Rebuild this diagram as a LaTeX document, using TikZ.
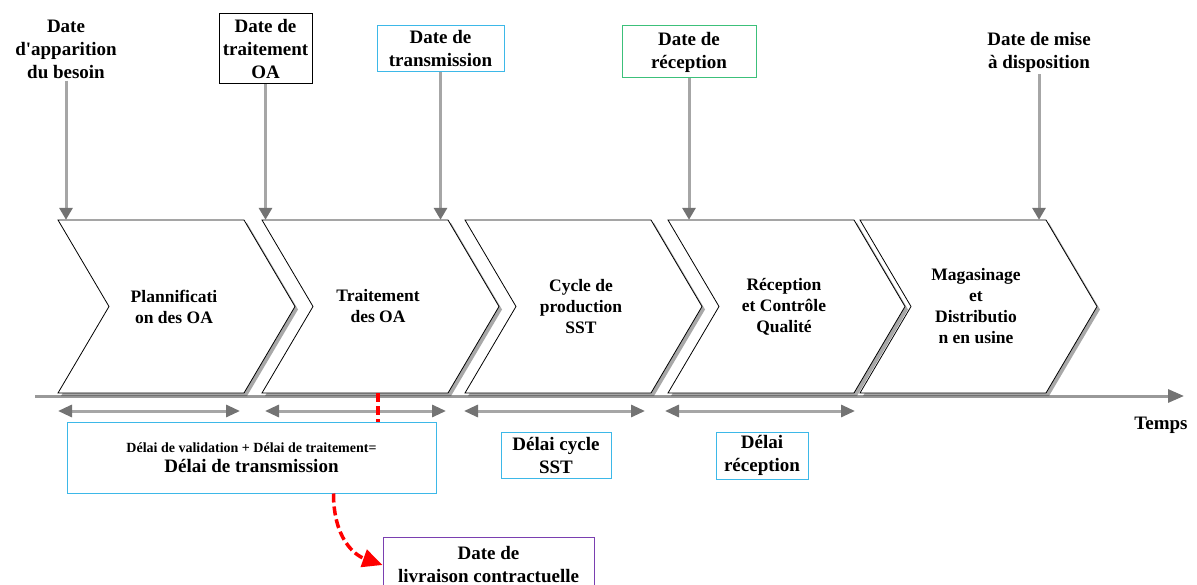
\documentclass[tikz,border=0pt]{standalone}
\usepackage{fontspec}
\setmainfont{Liberation Serif}
\newfontfamily\plainserif{Liberation Serif}
\usetikzlibrary{arrows.meta,shadows}
\tikzset{
  chev/.style={draw=black,line width=0.8pt,fill=white,
    drop shadow={shadow xshift=3pt,shadow yshift=-3pt,fill=black!75,opacity=0.45}},
  chevtext/.style={minimum width=186pt,minimum height=173pt,inner sep=0pt,align=center,
    font=\bfseries\fontsize{17.5}{21}\selectfont},
  datelabel/.style={align=center,inner sep=2pt,font=\bfseries\fontsize{19}{23}\selectfont},
  datebox/.style={datelabel,draw=#1,line width=1pt,fill=white},
  dateline/.style={draw=black!35,line width=3pt,-{Triangle[length=12pt,width=13pt,color=black!55]}},
  spanline/.style={draw=black!35,line width=3pt,
    {Triangle[length=14pt,width=12pt,color=black!55]}-{Triangle[length=14pt,width=12pt,color=black!55]}},
  redlink/.style={draw=red,line width=3.5pt,dash pattern=on 9pt off 4pt},
}
\begin{document}
\begin{tikzpicture}[x=1pt,y=-1pt]
\definecolor{boxcyan}{HTML}{3DB8E8}
\definecolor{boxgreen}{HTML}{3CC07A}
\definecolor{boxpurple}{HTML}{7A3FB0}
\clip (0,0) rectangle (1197,585);
\fill[white] (0,0) rectangle (1197,585);
\draw[draw=black!40,line width=3pt,-{Triangle[length=16pt,width=13pt,color=black!55]}] (35,396) -- (1184,396);
\foreach \x/\n/\t in {58/plan/{Plannificati\\on des OA},
    262/trait/{Traitement\\des OA},
    465/cycle/{Cycle de\\production\\SST},
    668/recep/{Réception\\et Contrôle\\Qualité},
    860/magas/{Magasinage\\et\\Distributio\\n en usine}}{
  \draw[chev] (\x,220) -- ++(186,0) -- ++(51,86.5) -- ++(-51,86.5) -- ++(-186,0) -- ++(51,-86.5) -- cycle;
  \node[chevtext] (\n) at (\x+116,306.5) {\t};
}
\node[datelabel] (apparition) at (66,49) {Date\\{\plainserif d'apparition}\\du besoin};
\node[datebox=black,minimum width=93pt,minimum height=70pt] (traitement) at (265.5,49) {Date de\\traitement\\OA};
\node[datebox=boxcyan,minimum width=127pt,minimum height=46pt] (transmission) at (440.5,49) {Date de\\transmission};
\node[datebox=boxgreen,minimum width=134pt,minimum height=52pt] (reception) at (689,52) {Date de\\réception};
\node[datelabel] (disposition) at (1039,52) {Date de mise\\à disposition};
\draw[dateline] (apparition.south) -- (apparition.south |- plan.north);
\draw[dateline] (traitement.south) -- (traitement.south |- trait.north);
\draw[dateline] (transmission.south) -- (transmission.south |- trait.north);
\draw[dateline] (reception.south) -- (reception.south |- recep.north);
\draw[dateline] (disposition.south) -- (disposition.south |- magas.north);
\draw[spanline] (58,411) -- (240,411);
\draw[spanline] (265,411) -- (446,411);
\draw[spanline] (464,411) -- (645,411);
\draw[spanline] (665,411) -- (855,411);
\node[datebox=boxcyan,minimum width=369pt,minimum height=71pt,font=\bfseries\fontsize{19}{20}\selectfont] (delaitrans) at (251.5,457.5)
  {{\fontsize{14}{18}\selectfont Délai de validation + Délai de traitement=}\\
   Délai de transmission};
\node[datebox=boxcyan,minimum width=110pt,minimum height=46pt] (delaisst) at (556,455) {Délai cycle\\SST};
\node[datebox=boxcyan,minimum width=92pt,minimum height=47pt] (delairecep) at (762,455.5) {Délai\\réception};
\node[datebox=boxpurple,minimum width=211pt,minimum height=56pt] (livraison) at (488.5,565) {Date de\\livraison contractuelle};
\node[datelabel] (temps) at (1161,425) {Temps};
\draw[redlink] (trait.south) -- (trait.south |- delaitrans.north);
\draw[redlink,-{Triangle[length=20pt,width=18pt]}] ([xshift=82pt]delaitrans.south) .. controls +(0,45) and +(-28,-10) .. (livraison.west);
\end{tikzpicture}
\end{document}
